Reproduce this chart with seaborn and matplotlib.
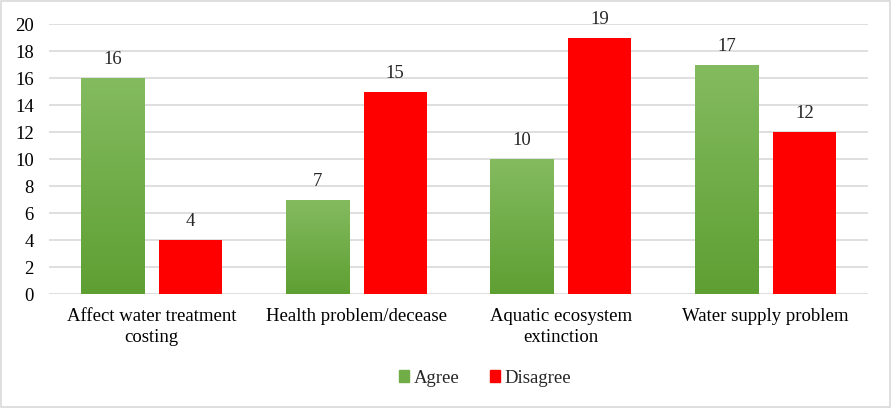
import numpy as np
import pandas as pd
import seaborn as sns
import matplotlib.pyplot as plt
from matplotlib.patches import Rectangle
from matplotlib.colors import LinearSegmentedColormap

categories = ["Affect water treatment\ncosting", "Health problem/decease",
              "Aquatic ecosystem\nextinction", "Water supply problem"]
agree = [16, 7, 10, 17]
disagree = [4, 15, 19, 12]
series = ["Agree", "Disagree"]

df = pd.DataFrame({
    "category": categories * 2,
    "response": ["Agree"] * 4 + ["Disagree"] * 4,
    "count": agree + disagree,
})

sns.set_style("white")
plt.rcParams["font.family"] = ["Liberation Serif", "DejaVu Serif"]
fs = 13.5

fig = plt.figure(figsize=(8.92, 4.08), dpi=100)
ax = fig.add_axes([0.055, 0.279, 0.918, 0.662])

palette = {"Agree": "#70AD47", "Disagree": "#FF0000"}
sns.barplot(data=df, x="category", y="count", hue="response", palette=palette,
            width=0.762, gap=0.192, saturation=1, linewidth=0, edgecolor="none",
            ax=ax, legend=False)

ax.grid(axis="y", color="#D9D9D9", linewidth=1.2)
ax.set_axisbelow(True)
for s in ax.spines.values():
    s.set_visible(False)
ax.set_xlabel("")
ax.set_ylabel("")
ax.tick_params(axis="both", length=0, labelsize=fs, colors="black")
ax.tick_params(axis="x", pad=10)
ax.tick_params(axis="y", pad=11)
for lbl in ax.get_xticklabels():
    lbl.set_linespacing(1.3)

# gradient on the green bars
grad = np.linspace(0, 1, 256).reshape(-1, 1)
gcmap = LinearSegmentedColormap.from_list("g", ["#5E9F32", "#84BB60"])
for bar in ax.containers[0]:
    x0, y0 = bar.get_x(), bar.get_y()
    w, h = bar.get_width(), bar.get_height()
    im = ax.imshow(grad, cmap=gcmap, aspect="auto", origin="lower",
                   extent=[x0, x0 + w, y0, y0 + h], zorder=bar.get_zorder())
    im.set_clip_path(bar)
    bar.set_facecolor("none")
ax.set_xlim(-0.5, 3.5)
ax.set_ylim(0, 20)
ax.set_yticks(range(0, 21, 2))

for cont in ax.containers:
    ax.bar_label(cont, padding=7, fontsize=fs)

handles = [Rectangle((0, 0), 1, 1, color="#70AD47"), Rectangle((0, 0), 1, 1, color="#FF0000")]
fig.legend(handles, series, loc="center", bbox_to_anchor=(0.544, 0.073), ncol=2,
           frameon=False, fontsize=fs, handlelength=0.55, handleheight=0.55,
           handletextpad=0.25, columnspacing=1.6)

fig.patches.append(Rectangle((0.001, 0.002), 0.997, 0.995, transform=fig.transFigure,
                             fill=False, edgecolor="#D9D9D9", linewidth=1.2))

fig.savefig("out.png", dpi=100)
